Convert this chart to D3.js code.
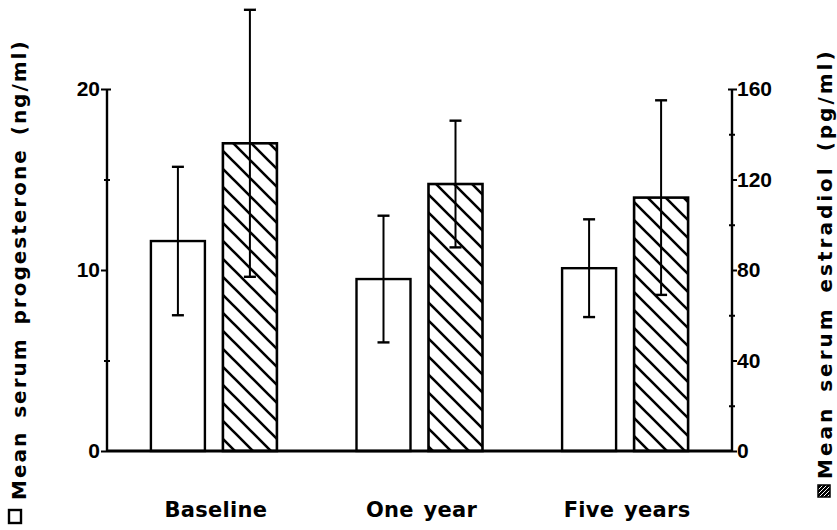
<!DOCTYPE html>
<html>
<head>
<meta charset="utf-8">
<script src="https://cdn.jsdelivr.net/npm/d3@7"></script>
<style>
  html, body { margin: 0; padding: 0; background: #fff; }
  svg { display: block; }
</style>
</head>
<body>
<div id="chart"></div>
<script>
// ---- data ----
const categories = ["Baseline", "One year", "Five years"];
const progesteroneMean = [11.6, 9.5, 10.1];   // ng/ml (left axis)
const progesteroneSD   = [4.1, 3.5, 2.7];
const estradiolMean    = [136, 118, 112];     // pg/ml (right axis)
const estradiolSD      = [59, 28, 43];
const leftTicks  = [0, 10, 20];
const leftMinor  = [5, 15];
const rightTicks = [0, 40, 80, 120, 160];
const rightMinor = [20, 60, 100, 140];
const leftTitle  = "Mean serum progesterone (ng/ml)";
const rightTitle = "Mean serum estradiol (pg/ml)";

const W = 837, H = 530;
const x0 = 107, x1 = 732, yBase = 451, yTop = 89;

const svg = d3.select("#chart").append("svg")
  .attr("width", W).attr("height", H)
  .style("background", "#fff");

const defs = svg.append("defs");
const pat = defs.append("pattern")
  .attr("id", "hatch").attr("patternUnits", "userSpaceOnUse")
  .attr("width", 18).attr("height", 18);
pat.append("rect").attr("width", 18).attr("height", 18).attr("fill", "#fff");
pat.append("path")
  .attr("d", "M0,0L18,18M-4.5,13.5L4.5,22.5M13.5,-4.5L22.5,4.5")
  .attr("stroke", "#000").attr("stroke-width", 2.6);

const patSmall = defs.append("pattern")
  .attr("id", "hatchSmall").attr("patternUnits", "userSpaceOnUse")
  .attr("width", 4).attr("height", 4);
patSmall.append("rect").attr("width", 4).attr("height", 4).attr("fill", "#000");
patSmall.append("path")
  .attr("d", "M0,4L4,0M-1,1L1,-1M3,5L5,3")
  .attr("stroke", "#fff").attr("stroke-width", 1);

// ---- scales ----
const yL = d3.scaleLinear().domain([0, 20]).range([yBase, yTop]);
const yR = d3.scaleLinear().domain([0, 160]).range([yBase, yTop]);
const xG = d3.scalePoint().domain(categories).range([x0, x1]).padding(0.52);
const xIn = d3.scaleBand().domain(["P", "E"]).range([-63, 63]).paddingInner(0.25);
const bw = xIn.bandwidth();

const rows = categories.map((c, i) => ({
  cat: c,
  pm: progesteroneMean[i], ps: progesteroneSD[i],
  em: estradiolMean[i], es: estradiolSD[i]
}));

const fontNum = "'Liberation Sans', Arial, sans-serif";
const fontTxt = "'DejaVu Sans', sans-serif";

// ---- bars ----
const g = svg.append("g");
rows.forEach(d => {
  const cx = xG(d.cat);
  g.append("rect")
    .attr("x", cx + xIn("P")).attr("width", bw)
    .attr("y", yL(d.pm)).attr("height", yL(0) - yL(d.pm))
    .attr("fill", "#fff").attr("stroke", "#000").attr("stroke-width", 2.4);
  g.append("rect")
    .attr("x", cx + xIn("E")).attr("width", bw)
    .attr("y", yR(d.em)).attr("height", yR(0) - yR(d.em))
    .attr("fill", "url(#hatch)").attr("stroke", "#000").attr("stroke-width", 2.6);
});

// ---- error bars ----
function errBar(xc, yLo, yHi) {
  g.append("line").attr("x1", xc).attr("x2", xc).attr("y1", yLo).attr("y2", yHi)
    .attr("stroke", "#000").attr("stroke-width", 2);
  [yLo, yHi].forEach(yy => g.append("line")
    .attr("x1", xc - 6).attr("x2", xc + 6).attr("y1", yy).attr("y2", yy)
    .attr("stroke", "#000").attr("stroke-width", 2.4));
}
rows.forEach(d => {
  const cx = xG(d.cat);
  errBar(cx + xIn("P") + bw / 2, yL(d.pm - d.ps), yL(d.pm + d.ps));
  errBar(cx + xIn("E") + bw / 2, yR(d.em - d.es), yR(d.em + d.es));
});

// ---- baseline ----
svg.append("line").attr("x1", x0).attr("x2", x1).attr("y1", yBase).attr("y2", yBase)
  .attr("stroke", "#000").attr("stroke-width", 3);

// ---- left axis ----
const axL = svg.append("g").attr("transform", `translate(${x0},0)`)
  .call(d3.axisLeft(yL).tickValues(leftTicks).tickSize(6).tickPadding(1).tickFormat(d3.format("d")));
axL.select(".domain").attr("stroke-width", 2.4).attr("d", `M0,${yBase}V${yTop}`);
axL.selectAll(".tick line").attr("stroke-width", 2);
axL.selectAll(".tick").filter(d => d === 20).select("line").attr("x1", 4);
axL.selectAll("text").style("font-family", fontNum).style("font-weight", "bold")
  .style("font-size", "21px").attr("fill", "#000");
const axLm = svg.append("g").attr("transform", `translate(${x0},0)`)
  .call(d3.axisLeft(yL).tickValues(leftMinor).tickSize(3).tickFormat(""));
axLm.select(".domain").remove();
axLm.selectAll(".tick line").attr("x1", 3).attr("stroke-width", 2);

// ---- right axis ----
const axR = svg.append("g").attr("transform", `translate(${x1},0)`)
  .call(d3.axisRight(yR).tickValues(rightTicks).tickSize(5).tickPadding(0).tickFormat(d3.format("d")));
axR.select(".domain").attr("stroke-width", 2.4).attr("d", `M0,${yBase}V${yTop}`);
axR.selectAll(".tick line").attr("stroke-width", 2);
axR.selectAll(".tick").filter(d => d === 160).select("line").attr("x1", -4);
axR.selectAll("text").style("font-family", fontNum).style("font-weight", "bold")
  .style("font-size", "21px").attr("fill", "#000");
const axRm = svg.append("g").attr("transform", `translate(${x1},0)`)
  .call(d3.axisRight(yR).tickValues(rightMinor).tickSize(3).tickFormat(""));
axRm.select(".domain").remove();
axRm.selectAll(".tick line").attr("x1", -3).attr("stroke-width", 2);

// ---- category labels ----
svg.append("g").selectAll("text").data(categories).join("text")
  .attr("x", d => xG(d) + 2).attr("y", 517)
  .attr("text-anchor", "middle")
  .style("font-family", fontTxt).style("font-weight", "bold").style("font-size", "21px")
  .style("letter-spacing", "0.3px").style("word-spacing", "2px")
  .text(d => d);

// ---- axis titles with legend symbols ----
svg.append("rect").attr("x", 9).attr("y", 510).attr("width", 12).attr("height", 13)
  .attr("fill", "#fff").attr("stroke", "#000").attr("stroke-width", 2.4);
svg.append("text")
  .attr("transform", "translate(26,500) rotate(-90)")
  .style("font-family", fontTxt).style("font-weight", "bold").style("font-size", "20px")
  .style("letter-spacing", "2px").style("word-spacing", "4px")
  .text(leftTitle);

svg.append("rect").attr("x", 818).attr("y", 485).attr("width", 12).attr("height", 12)
  .attr("fill", "url(#hatchSmall)").attr("stroke", "#000").attr("stroke-width", 1.5);
svg.append("text")
  .attr("transform", "translate(832,479) rotate(-90)")
  .style("font-family", fontTxt).style("font-weight", "bold").style("font-size", "20px")
  .style("letter-spacing", "3px").style("word-spacing", "4px")
  .text(rightTitle);
</script>
</body>
</html>
